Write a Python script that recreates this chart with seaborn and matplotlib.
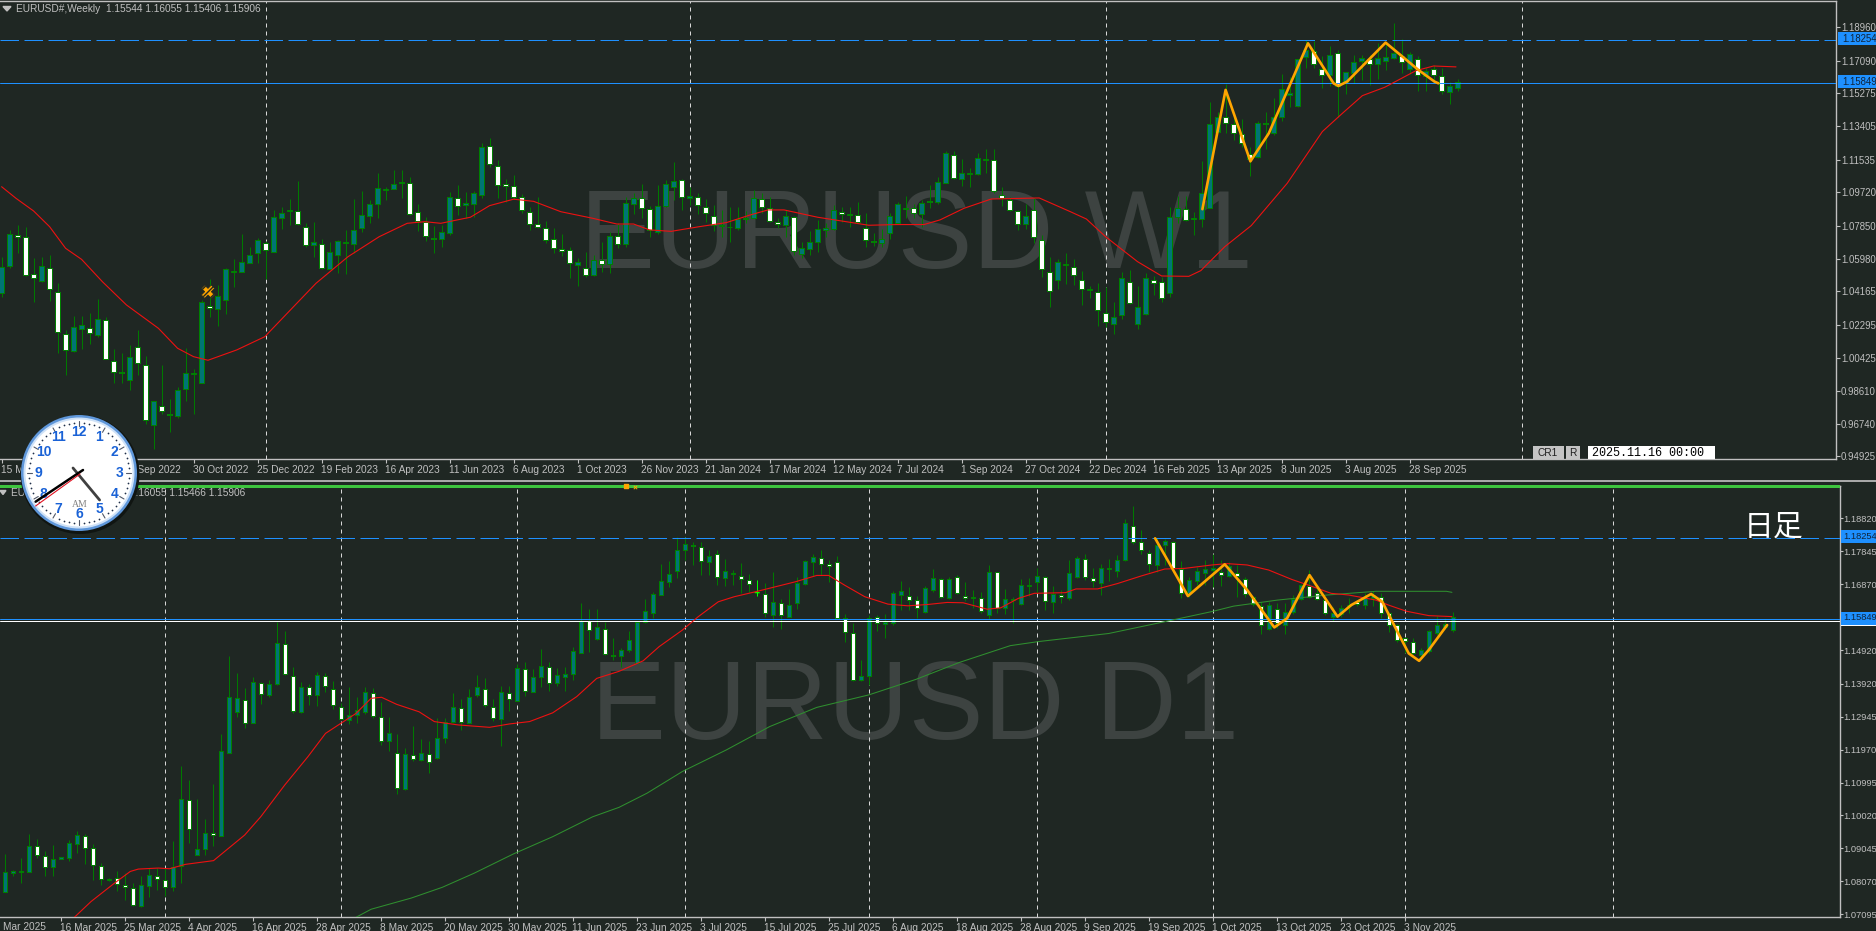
import numpy as np
import matplotlib
matplotlib.use("Agg")
import matplotlib.pyplot as plt
from matplotlib.patches import Circle, Rectangle, Polygon
from matplotlib.transforms import ScaledTranslation
import seaborn as sns

# ---------- weekly pane values ----------
weekly_open = [
1.0406,1.0561,1.0735,1.0720,1.0516,1.0475,1.0546,1.0415,1.0176,1.0081,
1.0208,1.0214,1.0175,1.0255,1.0029,0.9967,0.9922,1.0107,1.0007,0.9667,
0.9777,0.9732,0.9721,0.9872,0.9954,0.9906,1.0337,1.0320,1.0371,1.0527,
1.0527,1.0578,1.0634,1.0686,1.0639,1.0830,1.0867,1.0865,1.0779,1.0679,
1.0684,1.0544,1.0623,1.0686,1.0684,1.0774,1.0841,1.0905,1.0987,1.0990,
1.1022,1.1026,1.0862,1.0807,1.0718,1.0712,1.0746,1.0942,1.0903,1.0908,
1.0959,1.1233,1.1121,1.1018,1.1009,1.0947,1.0863,1.0796,1.0774,1.0712,
1.0654,1.0651,1.0567,1.0550,1.0507,1.0593,1.0568,1.0725,1.0684,1.0908,
1.0942,1.0877,1.0751,1.0895,1.1003,1.1043,1.0938,1.0947,1.0891,1.0841,
1.0781,1.0776,1.0774,1.0820,1.0830,1.0936,1.0886,1.0807,1.0787,1.0835,
1.0628,1.0652,1.0692,1.0759,1.0768,1.0863,1.0845,1.0847,1.0774,1.0701,
1.0686,1.0742,1.0802,1.0878,1.0882,1.0852,1.0925,1.0916,1.1026,1.1183,
1.1045,1.1073,1.1076,1.1155,1.1153,1.0957,1.0929,1.0865,1.0793,1.0873,
1.0705,1.0527,1.0479,1.0563,1.0555,1.0481,1.0423,1.0413,1.0298,1.0232,
1.0283,1.0471,1.0232,1.0292,1.0481,1.0470,1.0406,1.0835,1.0878,1.0820,
1.0820,1.0886,1.1312,1.1396,1.1354,1.1298,1.1186,1.1172,1.1360,1.1302,
1.1396,1.1519,1.1455,1.1728,1.1765,1.1664,1.1631,1.1754,1.1588,1.1640,
1.1707,1.1717,1.1692,1.1709,1.1726,1.1735,1.1661,1.1720,1.1623,1.1664,
1.1623,1.1532,1.15544]
weekly_close = [
1.0555,1.0736,1.0722,1.0511,1.0490,1.0557,1.0428,1.0188,1.0087,1.0216,
1.0227,1.0182,1.0260,1.0040,0.9964,0.9958,1.0048,1.0014,0.9695,0.9801,
0.9745,0.9723,0.9863,0.9958,0.9958,1.0357,1.0322,1.0389,1.0540,1.0533,
1.0583,1.0619,1.0703,1.0647,1.0832,1.0854,1.0873,1.0793,1.0677,1.0695,
1.0546,1.0636,1.0699,1.0692,1.0759,1.0843,1.0905,1.0994,1.0990,1.1018,
1.1028,1.0849,1.0811,1.0727,1.0710,1.0748,1.0944,1.0893,1.0910,1.0966,
1.1224,1.1129,1.1013,1.1007,1.0944,1.0873,1.0793,1.0778,1.0705,1.0658,
1.0645,1.0574,1.0583,1.0507,1.0595,1.0570,1.0725,1.0684,1.0910,1.0938,
1.0882,1.0759,1.0893,1.1017,1.1033,1.0944,1.0949,1.0899,1.0854,1.0787,
1.0789,1.0779,1.0820,1.0826,1.0938,1.0888,1.0809,1.0794,1.0837,1.0643,
1.0658,1.0692,1.0766,1.0770,1.0871,1.0850,1.0849,1.0806,1.0703,1.0694,
1.0712,1.0837,1.0905,1.0882,1.0858,1.0910,1.0918,1.1028,1.1190,1.1050,
1.1082,1.1078,1.1162,1.1160,1.0977,1.0942,1.0873,1.0794,1.0837,1.0723,
1.0542,1.0419,1.0580,1.0568,1.0509,1.0430,1.0428,1.0311,1.0245,1.0272,
1.0490,1.0354,1.0328,1.0490,1.0464,1.0380,1.0835,1.0882,1.0817,1.0826,
1.0966,1.1353,1.1392,1.1358,1.1304,1.1248,1.1157,1.1358,1.1353,1.1392,
1.1549,1.1526,1.1717,1.1769,1.1691,1.1629,1.1739,1.1567,1.1644,1.1700,
1.1722,1.1692,1.1722,1.1732,1.1750,1.1700,1.1745,1.1629,1.1649,1.1627,
1.1539,1.1565,1.15906]
weekly_high = [
1.0611,1.0761,1.0789,1.0776,1.0602,1.0611,1.0621,1.0462,1.0201,1.0279,
1.0279,1.0294,1.0374,1.0275,1.0092,1.0074,1.0117,1.0201,1.0055,0.9805,
1.0005,0.9812,0.9880,1.0098,0.9982,1.0369,1.0484,1.0453,1.0546,1.0596,
1.0738,1.0664,1.0714,1.0701,1.0873,1.0888,1.0933,1.1035,1.0798,1.0804,
1.0708,1.0692,1.0705,1.0761,1.0933,1.0979,1.0929,1.1080,1.1003,1.1097,
1.1097,1.1056,1.0905,1.0832,1.0783,1.0789,1.0974,1.1011,1.0975,1.0979,
1.1246,1.1274,1.1153,1.1045,1.1067,1.0961,1.0891,1.0947,1.0811,1.0770,
1.0738,1.0667,1.0602,1.0639,1.0621,1.0695,1.0751,1.0798,1.0947,1.0970,
1.1018,1.0895,1.1013,1.1041,1.1140,1.1045,1.1003,1.0970,1.0934,1.0901,
1.0873,1.0891,1.0891,1.0869,1.0983,1.0966,1.0947,1.0826,1.0873,1.0839,
1.0692,1.0757,1.0817,1.0798,1.0901,1.0888,1.0891,1.0918,1.0854,1.0742,
1.0764,1.0854,1.0919,1.0951,1.0906,1.0929,1.1011,1.1059,1.1205,1.1205,
1.1158,1.1106,1.1190,1.1214,1.1214,1.1000,1.0947,1.0873,1.0906,1.0938,
1.0733,1.0611,1.0596,1.0630,1.0596,1.0533,1.0447,1.0462,1.0440,1.0356,
1.0527,1.0537,1.0447,1.0518,1.0505,1.0499,1.0888,1.0953,1.0953,1.0862,
1.1145,1.1478,1.1424,1.1579,1.1396,1.1381,1.1228,1.1373,1.1420,1.1498,
1.1635,1.1620,1.1717,1.1825,1.1821,1.1735,1.1791,1.1769,1.1648,1.1741,
1.1741,1.1741,1.1806,1.1816,1.1920,1.1829,1.1760,1.1735,1.1666,1.1685,
1.1666,1.1592,1.16055]
weekly_low = [
1.0387,1.0550,1.0630,1.0503,1.0359,1.0471,1.0363,1.0074,0.9949,1.0079,
1.0094,1.0122,1.0163,1.0036,0.9902,0.9902,0.9865,0.9949,0.9672,0.9536,
0.9728,0.9631,0.9706,0.9803,0.9730,0.9902,1.0272,1.0225,1.0290,1.0443,
1.0527,1.0574,1.0574,1.0484,1.0639,1.0768,1.0789,1.0789,1.0667,1.0611,
1.0542,1.0540,1.0522,1.0514,1.0634,1.0748,1.0798,1.0830,1.0929,1.0989,
1.0938,1.0845,1.0755,1.0701,1.0634,1.0667,1.0733,1.0845,1.0830,1.0832,
1.0942,1.1112,1.0938,1.0919,1.0934,1.0854,1.0761,1.0770,1.0686,1.0634,
1.0615,1.0490,1.0449,1.0496,1.0503,1.0527,1.0518,1.0658,1.0667,1.0850,
1.0826,1.0723,1.0738,1.0891,1.0929,1.0873,1.0901,1.0850,1.0807,1.0755,
1.0723,1.0695,1.0761,1.0798,1.0826,1.0854,1.0804,1.0770,1.0723,1.0621,
1.0602,1.0621,1.0639,1.0723,1.0761,1.0807,1.0779,1.0798,1.0667,1.0671,
1.0667,1.0710,1.0802,1.0826,1.0826,1.0779,1.0882,1.0906,1.1022,1.1045,
1.1007,1.1003,1.1067,1.1082,1.0966,1.0897,1.0869,1.0761,1.0766,1.0686,
1.0496,1.0331,1.0428,1.0458,1.0455,1.0341,1.0382,1.0223,1.0216,1.0176,
1.0262,1.0346,1.0208,1.0285,1.0397,1.0359,1.0387,1.0802,1.0813,1.0733,
1.0779,1.0882,1.1308,1.1302,1.1265,1.1228,1.1063,1.1166,1.1213,1.1293,
1.1373,1.1452,1.1452,1.1666,1.1666,1.1558,1.1567,1.1396,1.1522,1.1582,
1.1601,1.1573,1.1605,1.1657,1.1717,1.1638,1.1635,1.1541,1.1539,1.1582,
1.1521,1.1468,1.15406]
weekly_ma_x = [0,1.8,4,6,8,10,12.6,15.6,19.6,22,24,25.8,29.4,32.9,36.3,39.3,43.3,47.2,50.7,52.9,54.9,58.6,61,64,66.5,69.9,73.9,76.9,
79,81,83.7,87.2,90.6,93.6,95.8,97.8,102,106,108.4,111.9,115.3,117.3,120.3,123.7,129.7,133.6,135.6,138,142,145,148.4,149.9,152.9,
156.2,160.7,165.1,167.6,170.1,172.9,176.8,179,181.8]
weekly_ma_y = [1.1003,1.0938,1.0867,1.0779,1.0658,1.0596,1.0471,1.0341,1.0210,1.0098,1.0051,1.0031,1.0089,1.0163,1.0322,1.0462,1.0611,1.0723,1.0798,1.0807,1.0798,1.0832,1.0897,1.0933,1.0921,1.0863,1.0826,1.0794,
1.0794,1.0761,1.0753,1.0779,1.0802,1.0845,1.0873,1.0873,1.0832,1.0804,1.0787,1.0791,1.0791,1.0817,1.0882,1.0934,1.0940,1.0863,1.0822,1.0723,1.0583,1.0503,1.0501,1.0533,1.0667,
1.0785,1.1022,1.1312,1.1414,1.1513,1.1560,1.1653,1.1679,1.1674]
weekly_zig_x = [150.1,153,156.1,158.4,163.3,166.5,167.1,168.2,173,177.1,179.1,179.6]
weekly_zig_y = [1.0877,1.1545,1.1145,1.1302,1.1806,1.1582,1.1567,1.1592,1.1810,1.1657,1.1592,1.1582]
weekly_labels = ["15 May 2022","10 Jul 2022","4 Sep 2022","30 Oct 2022","25 Dec 2022","19 Feb 2023","16 Apr 2023","11 Jun 2023",
"6 Aug 2023","1 Oct 2023","26 Nov 2023","21 Jan 2024","17 Mar 2024","12 May 2024","7 Jul 2024","1 Sep 2024","27 Oct 2024",
"22 Dec 2024","16 Feb 2025","13 Apr 2025","8 Jun 2025","3 Aug 2025","28 Sep 2025"]
weekly_prices = [1.18960,1.17090,1.15275,1.13405,1.11535,1.09720,1.07850,1.05980,1.04165,1.02295,1.00425,0.98610,0.96740,0.94925]
weekly_separators = [33,86,138,190]

# ---------- daily pane values ----------
daily_high = [
1.0888,1.0841,1.0877,1.0947,1.0932,1.0897,1.0915,1.0880,1.0929,1.0956,
1.0946,1.0918,1.0860,1.0817,1.0836,1.0831,1.0801,1.0823,1.0846,1.0846,
1.0846,1.0926,1.1149,1.1107,1.1050,1.0992,1.1095,1.1243,1.1474,1.1423,
1.1379,1.1411,1.1398,1.1403,1.1575,1.1548,1.1442,1.1397,1.1391,1.1427,
1.1424,1.1400,1.1334,1.1382,1.1354,1.1381,1.1379,1.1338,1.1293,1.1242,
1.1201,1.1267,1.1228,1.1221,1.1290,1.1290,1.1364,1.1346,1.1376,1.1418,
1.1408,1.1346,1.1385,1.1385,1.1451,1.1457,1.1435,1.1494,1.1458,1.1440,
1.1443,1.1502,1.1630,1.1615,1.1615,1.1576,1.1529,1.1499,1.1548,1.1576,
1.1642,1.1665,1.1747,1.1755,1.1828,1.1826,1.1813,1.1811,1.1788,1.1788,
1.1763,1.1729,1.1749,1.1717,1.1699,1.1692,1.1722,1.1642,1.1672,1.1709,
1.1760,1.1776,1.1788,1.1760,1.1770,1.1599,1.1573,1.1462,1.1596,1.1595,
1.1599,1.1668,1.1697,1.1680,1.1652,1.1682,1.1732,1.1704,1.1707,1.1715,
1.1694,1.1670,1.1663,1.1743,1.1724,1.1672,1.1650,1.1701,1.1704,1.1736,
1.1711,1.1682,1.1670,1.1760,1.1770,1.1778,1.1734,1.1747,1.1763,1.1775,
1.1879,1.1918,1.1847,1.1788,1.1823,1.1820,1.1816,1.1756,1.1707,1.1737,
1.1760,1.1778,1.1759,1.1754,1.1744,1.1707,1.1652,1.1635,1.1635,1.1630,
1.1630,1.1654,1.1689,1.1729,1.1684,1.1650,1.1620,1.1625,1.1645,1.1640,
1.1660,1.1668,1.1660,1.1606,1.1569,1.1532,1.1527,1.1497,1.1551,1.1593,
1.1586,1.16055]
daily_low = [
1.0776,1.0823,1.0803,1.0833,1.0875,1.0821,1.0821,1.0873,1.0868,1.0892,
1.0858,1.0811,1.0796,1.0809,1.0779,1.0752,1.0734,1.0732,1.0760,1.0781,
1.0762,1.0779,1.0803,1.0920,1.0885,1.0885,1.0912,1.0942,1.1186,1.1293,
1.1262,1.1277,1.1331,1.1354,1.1389,1.1418,1.1306,1.1306,1.1329,1.1326,
1.1369,1.1316,1.1287,1.1273,1.1277,1.1303,1.1290,1.1212,1.1194,1.1065,
1.1078,1.1164,1.1163,1.1129,1.1168,1.1218,1.1277,1.1255,1.1277,1.1354,
1.1322,1.1283,1.1208,1.1312,1.1340,1.1356,1.1369,1.1383,1.1372,1.1386,
1.1372,1.1403,1.1482,1.1487,1.1522,1.1477,1.1462,1.1443,1.1487,1.1453,
1.1573,1.1588,1.1654,1.1680,1.1706,1.1759,1.1744,1.1714,1.1714,1.1685,
1.1682,1.1685,1.1662,1.1665,1.1652,1.1590,1.1561,1.1555,1.1589,1.1614,
1.1686,1.1711,1.1714,1.1694,1.1586,1.1517,1.1400,1.1400,1.1388,1.1549,
1.1527,1.1566,1.1610,1.1610,1.1586,1.1603,1.1665,1.1647,1.1642,1.1658,
1.1638,1.1618,1.1603,1.1583,1.1601,1.1599,1.1573,1.1625,1.1652,1.1660,
1.1610,1.1603,1.1630,1.1640,1.1704,1.1699,1.1680,1.1655,1.1697,1.1709,
1.1757,1.1806,1.1776,1.1724,1.1724,1.1744,1.1729,1.1645,1.1648,1.1685,
1.1685,1.1680,1.1682,1.1707,1.1650,1.1648,1.1622,1.1539,1.1551,1.1556,
1.1539,1.1599,1.1640,1.1645,1.1640,1.1596,1.1579,1.1591,1.1601,1.1622,
1.1615,1.1622,1.1586,1.1545,1.1517,1.1484,1.1480,1.1475,1.1484,1.1536,
1.1553,1.15466]
daily_open = [
1.0776,1.0830,1.0833,1.0833,1.0910,1.0882,1.0850,1.0874,1.0877,1.0918,
1.0942,1.0904,1.0852,1.0812,1.0818,1.0797,1.0787,1.0734,1.0794,1.0821,
1.0812,1.0791,1.0852,1.1049,1.0886,1.0901,1.0951,1.0942,1.1187,1.1309,
1.1345,1.1277,1.1395,1.1360,1.1392,1.1511,1.1416,1.1307,1.1383,1.1360,
1.1414,1.1378,1.1324,1.1285,1.1300,1.1309,1.1366,1.1295,1.1221,1.1188,
1.1081,1.1182,1.1165,1.1185,1.1173,1.1230,1.1280,1.1321,1.1277,1.1360,
1.1378,1.1324,1.1289,1.1364,1.1342,1.1437,1.1369,1.1411,1.1443,1.1393,
1.1413,1.1420,1.1484,1.1579,1.1526,1.1555,1.1477,1.1475,1.1491,1.1455,
1.1574,1.1603,1.1656,1.1694,1.1727,1.1787,1.1804,1.1798,1.1754,1.1777,
1.1706,1.1716,1.1712,1.1700,1.1661,1.1659,1.1597,1.1632,1.1591,1.1632,
1.1688,1.1754,1.1765,1.1748,1.1754,1.1586,1.1543,1.1402,1.1414,1.1591,
1.1568,1.1573,1.1654,1.1653,1.1641,1.1606,1.1669,1.1703,1.1647,1.1709,
1.1653,1.1645,1.1646,1.1597,1.1722,1.1616,1.1639,1.1629,1.1681,1.1695,
1.1709,1.1635,1.1656,1.1645,1.1709,1.1762,1.1706,1.1691,1.1731,1.1727,
1.1760,1.1860,1.1811,1.1780,1.1745,1.1802,1.1813,1.1733,1.1660,1.1697,
1.1720,1.1729,1.1724,1.1711,1.1719,1.1703,1.1650,1.1622,1.1553,1.1614,
1.1566,1.1606,1.1642,1.1682,1.1660,1.1640,1.1591,1.1599,1.1623,1.1635,
1.1625,1.1645,1.1648,1.1601,1.1566,1.1528,1.1516,1.1478,1.1488,1.1541,
1.1559,1.1551]
daily_close = [
1.0834,1.0837,1.0836,1.0910,1.0884,1.0850,1.0872,1.0878,1.0921,1.0943,
1.0904,1.0854,1.0813,1.0815,1.0798,1.0790,1.0736,1.0797,1.0825,1.0814,
1.0789,1.0848,1.1050,1.0963,1.0902,1.0949,1.0943,1.1192,1.1352,1.1349,
1.1277,1.1396,1.1361,1.1390,1.1513,1.1420,1.1310,1.1381,1.1359,1.1417,
1.1384,1.1329,1.1288,1.1299,1.1313,1.1367,1.1296,1.1222,1.1245,1.1082,
1.1183,1.1168,1.1186,1.1159,1.1230,1.1280,1.1322,1.1278,1.1354,1.1381,
1.1329,1.1290,1.1367,1.1346,1.1438,1.1371,1.1411,1.1444,1.1393,1.1417,
1.1420,1.1488,1.1579,1.1550,1.1559,1.1480,1.1474,1.1491,1.1521,1.1576,
1.1609,1.1657,1.1698,1.1716,1.1787,1.1806,1.1799,1.1756,1.1772,1.1708,
1.1725,1.1721,1.1701,1.1687,1.1663,1.1601,1.1633,1.1596,1.1624,1.1692,
1.1755,1.1769,1.1746,1.1741,1.1586,1.1545,1.1402,1.1414,1.1586,1.1573,
1.1574,1.1660,1.1666,1.1639,1.1617,1.1675,1.1704,1.1649,1.1701,1.1661,
1.1645,1.1648,1.1608,1.1722,1.1616,1.1642,1.1643,1.1684,1.1686,1.1710,
1.1637,1.1659,1.1649,1.1719,1.1764,1.1707,1.1696,1.1734,1.1734,1.1760,
1.1867,1.1811,1.1787,1.1746,1.1802,1.1814,1.1734,1.1662,1.1699,1.1725,
1.1731,1.1734,1.1715,1.1742,1.1711,1.1658,1.1628,1.1566,1.1625,1.1571,
1.1604,1.1644,1.1685,1.1650,1.1642,1.1601,1.1603,1.1618,1.1625,1.1627,
1.1645,1.1654,1.1601,1.1566,1.1522,1.1519,1.1483,1.1491,1.1547,1.1565,
1.1569,1.15906]
daily_ma_x = [8.7,10.8,13.7,15.7,16.7,19.2,20.6,22.6,26.1,30,32,35,37.9,40.1,41.9,43.9,45.8,47.1,49,51.8,53.7,56.7,60.6,63.1,65.6,68.5,71.5,74,76.8,
79.8,81.8,84.7,86.7,89.2,91.2,93.9,98.8,101.5,103,105,107.5,110.4,112.9,115.4,117.8,119.8,122.8,124.5,126.7,128.7,132.6,133.9,136.6,139.1,142,145,147.5,150.9,
152.8,155.3,158,160.9,163,165.8,168,171.4,173,175.2,178,180.9]
daily_ma_y = [1.0700,1.0747,1.0801,1.0836,1.0843,1.0846,1.0844,1.0857,1.0868,1.0944,1.0998,1.1092,1.1176,1.1245,1.1273,1.1304,1.1349,1.1352,1.1331,1.1309,1.1280,1.1270,1.1263,1.1273,1.1280,1.1306,1.1354,1.1408,1.1429,
1.1460,1.1502,1.1551,1.1591,1.1635,1.1650,1.1665,1.1694,1.1713,1.1713,1.1684,1.1650,1.1628,1.1623,1.1627,1.1633,1.1632,1.1613,1.1617,1.1645,1.1660,1.1662,1.1673,1.1673,1.1689,1.1711,1.1732,1.1734,1.1744,
1.1748,1.1744,1.1729,1.1701,1.1684,1.1660,1.1655,1.1640,1.1625,1.1607,1.1594,1.1591]
daily_long_x = [43.9,45.8,50.8,54.7,58.7,63.6,68.5,73.5,76.8,80.3,84.7,90.2,95.6,101.5,108,113.9,119.3,125.7,129.2,138,145,150.9,153.6,159.1,165.3,171.4,180.2,180.9]
daily_long_y = [1.0700,1.0724,1.0757,1.0789,1.0831,1.0888,1.0939,1.0998,1.1026,1.1068,1.1132,1.1196,1.1265,1.1322,1.1359,1.1405,1.1455,1.1505,1.1517,1.1541,1.1576,1.1606,1.1622,1.1640,1.1655,1.1666,1.1666,1.1663]
daily_zig_x = [143.8,145.7,147.9,152.5,155.3,158.7,160.3,163.1,166.6,168.3,170.8,172.2,174.2,175.5,176.8,178,180.3]
daily_zig_y = [1.1823,1.1744,1.1652,1.1746,1.1670,1.1559,1.1586,1.1714,1.1591,1.1625,1.1658,1.1635,1.1541,1.1482,1.1460,1.1492,1.1566]
daily_labels = ["16 Mar 2025","25 Mar 2025","4 Apr 2025","16 Apr 2025","28 Apr 2025","8 May 2025","20 May 2025","30 May 2025",
"11 Jun 2025","23 Jun 2025","3 Jul 2025","15 Jul 2025","25 Jul 2025","6 Aug 2025","18 Aug 2025","28 Aug 2025","9 Sep 2025",
"19 Sep 2025","1 Oct 2025","13 Oct 2025","23 Oct 2025","3 Nov 2025"]
daily_prices = [1.18820,1.17845,1.16870,1.14920,1.13920,1.12945,1.11970,1.10995,1.10020,1.09045,1.08070,1.07095]
daily_separators = [20,42,64,85,108,129,151,175,201]

level_dashed = 1.18254
level_solid = 1.15849
level_bid = 1.1578

# ---------- style ----------
BG = "#1f2723"
GREY = "#c0c0c0"
BLUE = "#1e90ff"
WICK = "#007a00"
TEAL = "#007575"
sns.set_theme(style="dark", rc={"figure.facecolor": BG, "axes.facecolor": BG, "savefig.facecolor": BG,
                                "axes.grid": False, "axes.edgecolor": GREY})
plt.rcParams["font.family"] = ["Liberation Sans", "DejaVu Sans"]
W, H = 1876, 931
fig = plt.figure(figsize=(W / 100, H / 100), dpi=100, facecolor=BG)


def px_axes(x0, y0, x1, y1, **kw):
    return fig.add_axes([x0 / W, 1 - y1 / H, (x1 - x0) / W, (y1 - y0) / H], **kw)


def candles(ax, o, h, l, c, width=0.55):
    o, h, l, c = map(np.asarray, (o, h, l, c))
    x = np.arange(len(o))
    ax.vlines(x, l, h, color=WICK, lw=0.72, zorder=3)
    up = c >= o
    ax.bar(x[up], (c - o)[up], bottom=o[up], width=width, color=TEAL, edgecolor="#008000", lw=0.72, zorder=4)
    ax.bar(x[~up], (o - c)[~up], bottom=c[~up], width=width, color="white", edgecolor="#008000", lw=0.72, zorder=4)


def dress(ax, xlim, ylim, ticks, labels, prices, seps, ysize, ylen):
    ax.set_xlim(*xlim)
    ax.set_ylim(*ylim)
    ax.set_facecolor(BG)
    for s in ax.spines.values():
        s.set_color(GREY)
        s.set_linewidth(1.0)
    ax.spines["left"].set_visible(False)
    ax.yaxis.tick_right()
    ax.set_yticks(prices, [f"{p:.5f}" for p in prices])
    ax.set_xticks(ticks, labels)
    ax.tick_params(axis="x", colors=GREY, length=3, width=0.8, labelsize=7.3, pad=1.5, bottom=True)
    ax.tick_params(axis="y", colors=GREY, length=ylen, width=0.8, labelsize=ysize, pad=0.6, right=True)
    off = ScaledTranslation(-1 / 100, 0, fig.dpi_scale_trans)
    for lab in ax.get_xticklabels():
        lab.set_ha("left")
        lab.set_transform(lab.get_transform() + off)
    for s in seps:
        ax.axvline(s, color="#d8d8d8", lw=0.72, ls=(0, (4, 4)), zorder=2)
    ax.axhline(level_dashed, color=BLUE, lw=0.72, ls=(0, (18.5, 5.5)), zorder=5)
    ax.axhline(level_solid, color=BLUE, lw=0.72, zorder=5)


# ---------- weekly pane ----------
ax1 = px_axes(0, 1, 1836, 459)
dress(ax1, (-0.2, 229.3), (0.9478, 1.2043), np.arange(0, 184, 8), weekly_labels, weekly_prices, weekly_separators, 6.9, 3)
candles(ax1, weekly_open, weekly_high, weekly_low, weekly_close)
sns.lineplot(x=weekly_ma_x, y=weekly_ma_y, ax=ax1, color="#ee1111", lw=0.8, estimator=None, sort=False, legend=False, zorder=6)
sns.lineplot(x=weekly_zig_x, y=weekly_zig_y, ax=ax1, color="#ffa500", lw=1.9, estimator=None, sort=False, legend=False, zorder=7)
ax1.scatter([25.8], [1.0415], marker="X", s=90, facecolor="#ffa500", edgecolor="#1f2723", lw=0.5, hatch="////", zorder=7)
ax1.set_xlabel(""); ax1.set_ylabel("")

# ---------- daily pane ----------
ax2 = px_axes(0, 486, 1839.6, 917)
dress(ax2, (-0.59, 229.36), (1.0701, 1.1978), np.arange(7, 176, 8), daily_labels, daily_prices, daily_separators, 6.7, 2)
candles(ax2, daily_open, daily_high, daily_low, daily_close)
ax2.vlines([94], [daily_low[94]], [daily_high[94]], color="#00ff00", lw=0.72, zorder=5)
ax2.hlines([daily_close[94]], [93.7], [94.3], color="#00ff00", lw=0.72, zorder=5)
ax2.axhline(level_bid, color="white", lw=0.72, zorder=5)
sns.lineplot(x=daily_long_x, y=daily_long_y, ax=ax2, color="#2f8f2f", lw=0.75, estimator=None, sort=False, legend=False, zorder=5)
sns.lineplot(x=daily_ma_x, y=daily_ma_y, ax=ax2, color="#ee1111", lw=0.8, estimator=None, sort=False, legend=False, zorder=6)
sns.lineplot(x=daily_zig_x, y=daily_zig_y, ax=ax2, color="#ffa500", lw=1.9, estimator=None, sort=False, legend=False, zorder=7)
ax2.set_xlabel(""); ax2.set_ylabel("")
ax1.set_zorder(1); ax2.set_zorder(1)

# ---------- overlay (pixel space): watermarks, tags, clock, buttons ----------
ov = fig.add_axes([0, 0, 1, 1], zorder=10, facecolor="none")
ov.set_xlim(0, W); ov.set_ylim(H, 0); ov.axis("off")

wm = dict(family="Liberation Sans", fontsize=80.7, color="#3d4341", va="baseline", ha="left", zorder=1)
ax1.text(580 / 1836, 1 - (268 - 1) / 458, "EURUSD W1", transform=ax1.transAxes, **wm)
ax2.text(591 / 1839.6, 1 - (739 - 486) / 431, "EURUSD D1", transform=ax2.transAxes, **wm)

hdr = dict(fontsize=7.3, color=GREY, va="center", ha="left")
ov.text(16, 9, "EURUSD#,Weekly  1.15544 1.16055 1.15406 1.15906", **hdr)
ov.text(11, 492.7, "EURUSD#,Daily  1.15544 1.16055 1.15466 1.15906", **hdr)
ov.add_patch(Polygon([[3, 6.5], [11, 6.5], [7, 11]], color=GREY))
ov.add_patch(Polygon([[0, 490.5], [6, 490.5], [3, 494.5]], color=GREY))

# pane separators
ov.add_patch(Rectangle((0, 480.3), W, 1.6, color="#a8a8a8", lw=0))
ov.add_patch(Rectangle((0, 484.7), 1839.6, 3.3, color="#3ec43e", lw=0))
ov.text(3, 926.7, "Mar 2025", fontsize=7.3, color=GREY, va="center", ha="left")
ov.scatter([626], [486], marker="s", s=5, color="#ffa500", zorder=3)
ov.scatter([635], [487], marker="x", s=6, lw=0.7, color="#ffa500", zorder=3)

# price tags
for y, txt in ((38.7, "1.18254"), (81.7, "1.15849")):
    ov.add_patch(Rectangle((1838, y - 6.5), 38, 13, color=BLUE, lw=0))
    ov.text(1842, y, txt, fontsize=6.9, color="#10243a", va="center", ha="left")
ov.add_patch(Rectangle((1841, 623), 35, 2.5, color="white", lw=0))
for y, txt in ((536.3, "1.18254"), (618, "1.15849")):
    ov.add_patch(Rectangle((1841, y - 6.5), 35, 13, color=BLUE, lw=0))
    ov.text(1843, y, txt, fontsize=6.7, color="#10243a", va="center", ha="left")

# jp label
ov.text(1773.6, 527, "日足", family=["Noto Sans CJK JP", "DejaVu Sans"], fontsize=21.5, color="white", ha="center", va="center")

# buttons
ov.add_patch(Rectangle((1533, 446), 30.5, 13, color="#c4c4c4", lw=0))
ov.add_patch(Rectangle((1566, 446), 13.5, 13, color="#c4c4c4", lw=0))
ov.add_patch(Rectangle((1588, 446), 127, 12.5, color="white", lw=0))
ov.text(1548, 452.5, "CR1", fontsize=7.3, color="#202020", ha="center", va="center")
ov.text(1572.8, 452.5, "R", fontsize=7.3, color="#202020", ha="center", va="center")
ov.text(1592, 452.5, "2025.11.16 00:00", family="Liberation Mono", fontsize=8.5, color="black", ha="left", va="center")

# clock
cx, cy = 79, 473
ov.add_patch(Circle((cx + 1, cy + 1.5), 59.5, color="#101512", lw=0, zorder=4))
ov.add_patch(Circle((cx, cy), 58, color="#5f97da", lw=0, zorder=5))
ov.add_patch(Circle((cx, cy), 55.5, color="#cfe2f8", lw=0, zorder=5))
ov.add_patch(Circle((cx, cy), 53.5, color="white", lw=0, zorder=5))
for m in range(60):
    a = np.deg2rad(m * 6)
    sx, sy = cx + 50 * np.sin(a), cy - 50 * np.cos(a)
    if m % 5 == 0:
        ov.plot([cx + 47 * np.sin(a), cx + 52 * np.sin(a)], [cy - 47 * np.cos(a), cy - 52 * np.cos(a)], color="#505868", lw=0.8, zorder=6)
    else:
        ov.scatter([sx], [sy], s=1.6, color="#20304a", lw=0, zorder=6)
for n in range(1, 13):
    a = np.deg2rad(n * 30)
    ov.text(cx + 41 * np.sin(a), cy - 41 * np.cos(a), str(n), fontsize=10, fontweight="bold", color="#1a62d6",
            ha="center", va="center", zorder=6)
ov.text(80, 504.7, "AM", family="Liberation Serif", fontsize=7, color="#808080", ha="center", va="center", zorder=6)
ov.plot([73, 99.6], [468, 500], color="#404040", lw=2.0, solid_capstyle="round", zorder=7)
ov.plot([83, 35.6], [470, 501.7], color="black", lw=1.8, solid_capstyle="round", zorder=8)
ov.plot([80, 35.6], [474, 506], color="#e01020", lw=0.8, zorder=9)

fig.savefig("out.png", dpi=100, facecolor=BG)
